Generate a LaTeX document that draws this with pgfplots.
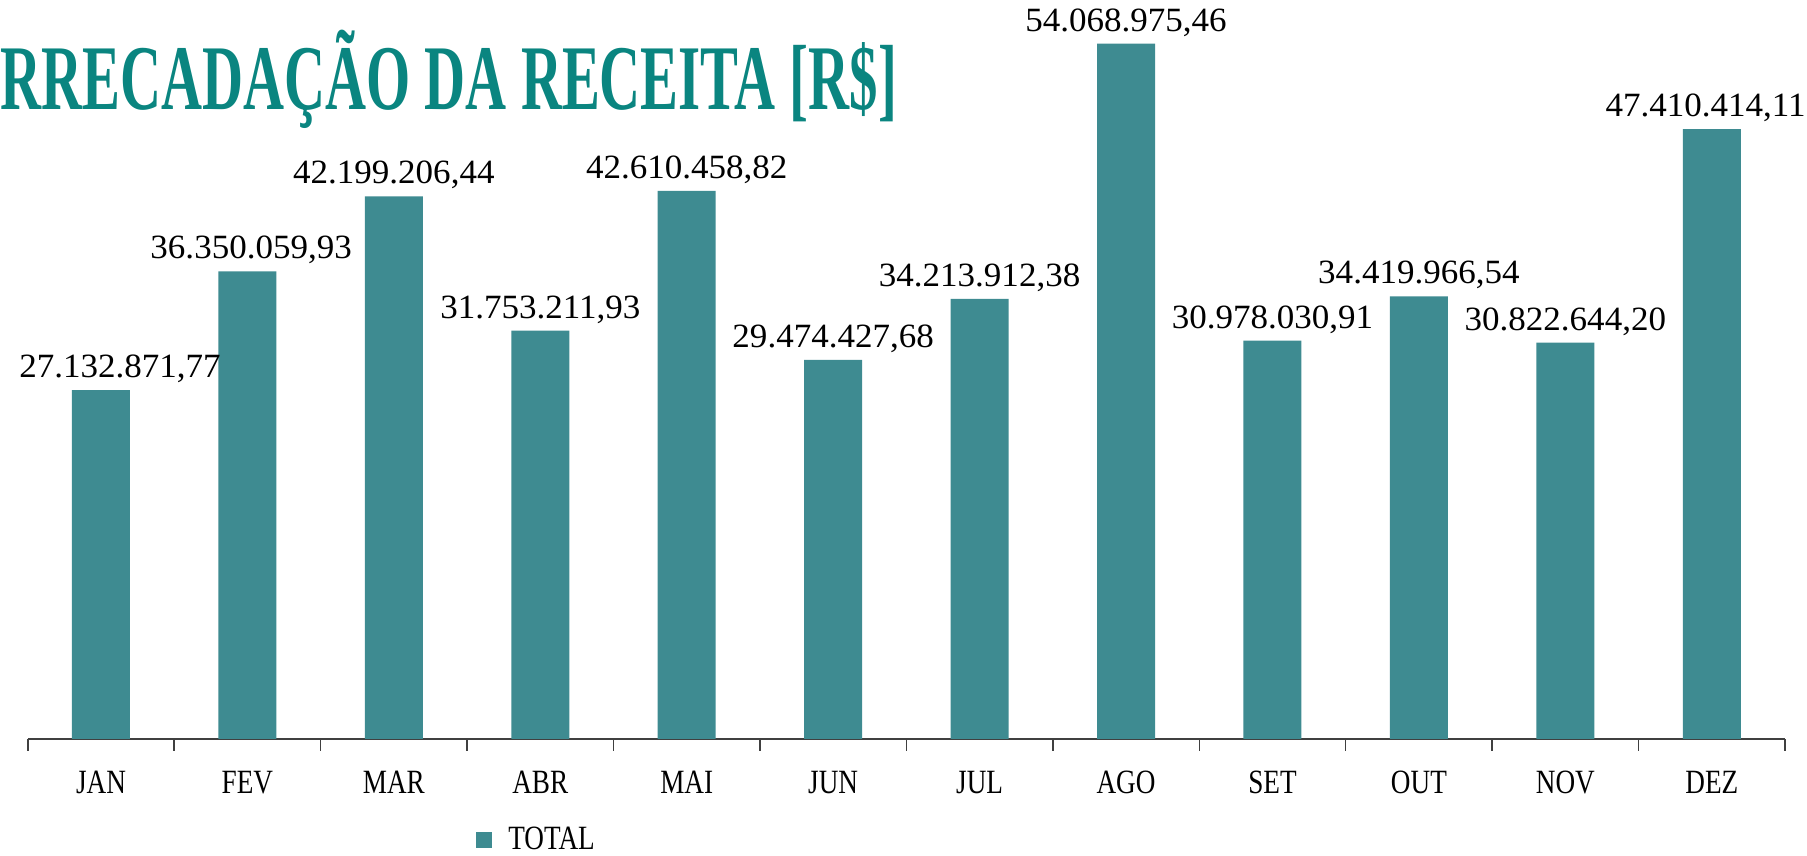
\documentclass[border=0pt]{standalone}
\usepackage{pgfplots}
\pgfplotsset{compat=1.18}
\usepackage{pgfplotstable}
\usepackage{fontspec}
\setmainfont{Liberation Serif}
\newfontfamily\condfont[FakeStretch=0.8]{Liberation Serif}
\newfontfamily\numfont[FakeStretch=1.03]{Liberation Serif}
\newfontfamily\titlefont[FakeStretch=0.614]{Liberation Serif}
\definecolor{barcol}{HTML}{3E8B91}
\definecolor{titlecol}{HTML}{0A8580}
\definecolor{axcol}{HTML}{404040}
\pgfplotstableread{
x y label dx
0 27132871.77 27.132.871,77 7.6
1 36350059.93 36.350.059,93 1.5
2 42199206.44 42.199.206,44 0
3 31753211.93 31.753.211,93 0
4 42610458.82 42.610.458,82 0
5 29474427.68 29.474.427,68 0
6 34213912.38 34.213.912,38 0
7 54068975.46 54.068.975,46 0
8 30978030.91 30.978.030,91 0
9 34419966.54 34.419.966,54 0
10 30822644.20 30.822.644,20 0
11 47410414.11 47.410.414,11 -2.5
}\datatable
\begin{document}
\begin{tikzpicture}[x=1pt,y=1pt]
\useasboundingbox (0,0) rectangle (722.8,342.4);
\begin{axis}[
  at={(11.1pt,46.8pt)}, anchor=south west,
  scale only axis, width=702.9pt, height=295.6pt,
  xmin=-0.5, xmax=11.5, ymin=0, ymax=57.46e6,
  clip=false,
  axis x line*=bottom, axis y line=none,
  x axis line style={-, draw=axcol, line width=0.6pt},
  ybar, bar width=23.2pt,
  xtick={0,...,11},
  xticklabels={JAN,FEV,MAR,ABR,MAI,JUN,JUL,AGO,SET,OUT,NOV,DEZ},
  minor xtick={-0.5,0.5,...,11.5},
  major tick length=0pt, minor tick length=4.8pt, tick align=outside,
  every tick/.style={draw=axcol, line width=0.6pt},
  minor tick style={draw=axcol, line width=0.6pt},
  xticklabel style={font=\condfont\fontsize{13.6}{16}\selectfont, anchor=base, yshift=-22pt, inner sep=0pt},
  ytick=\empty,
  nodes near coords,
  point meta=explicit symbolic,
  visualization depends on={\thisrow{dx} \as \labdx},
  every node near coord/.append style={font=\numfont\fontsize{13.6}{16}\selectfont, anchor=base, inner sep=0pt, yshift=5pt, xshift=\labdx pt, text=black},
  legend style={at={(0.255,-0.1365)}, anchor=west, draw=none, inner sep=0pt, column sep=4.4pt,
    font=\condfont\fontsize{13.6}{16}\selectfont, fill=none},
  legend image code/.code={\fill[barcol] (0pt,-3.2pt) rectangle (6.4pt,3.2pt);},
]
\addplot[fill=barcol, draw=none] table[x=x, y=y, meta=label] {\datatable};
\addlegendentry{TOTAL}
\end{axis}
\node[anchor=base west, inner sep=0pt, text=titlecol, font=\titlefont\bfseries\fontsize{37}{40}\selectfont] at (0,298.6) {RRECADAÇÃO DA RECEITA [R\$]};
\end{tikzpicture}
\end{document}
